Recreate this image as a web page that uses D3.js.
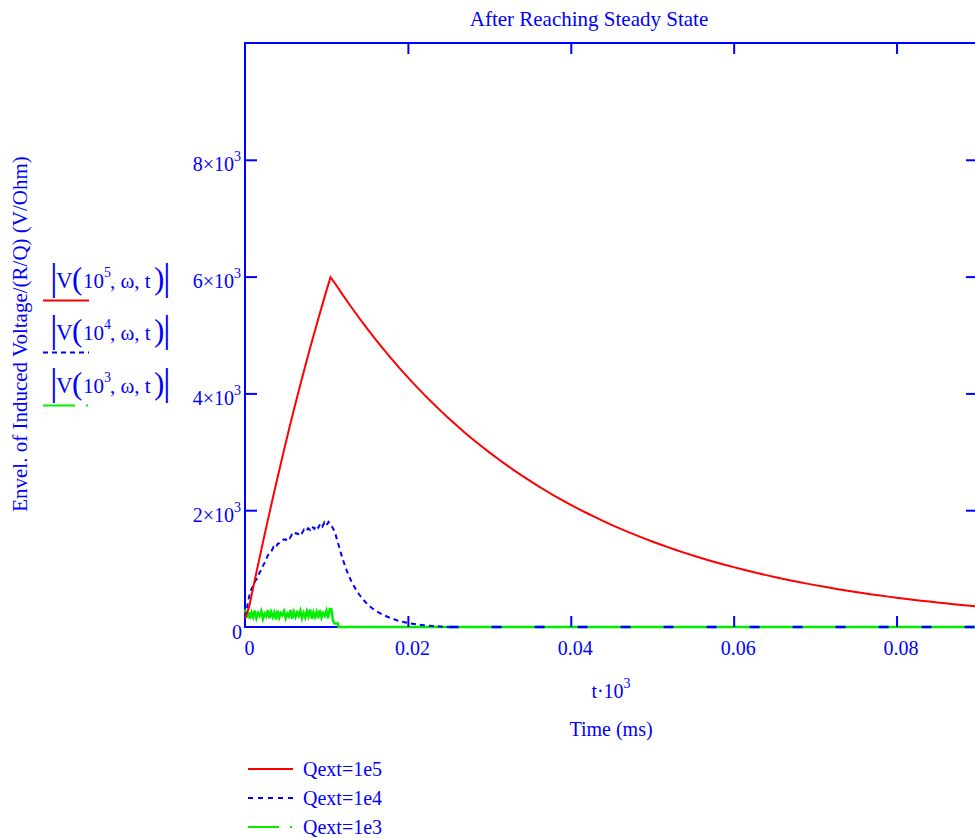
<!DOCTYPE html>
<meta charset="utf-8">
<style>
body { margin: 0; background: #fff; }
text { font-family: "Liberation Serif", "Times New Roman", serif; fill: #0000ff; }
.frame { fill: none; stroke: #0000ff; stroke-width: 2px; }
.tick line { stroke: #0000ff; stroke-width: 2px; }
</style>
<body>
<svg width="975" height="838"></svg>
<script src="https://cdn.jsdelivr.net/npm/d3@7/dist/d3.min.js"></script>
<script>

// ---- data (t in s*1e3 units as on the axis, V/(R/Q) in V/Ohm) ----
// Qext = 1e5 : fill ramp (every 0.0005) then decay (every 0.001)
var redRiseT = d3.range(22).map(function(i) { return i * 0.0005; });
var redRiseV = [150, 340, 670, 1000, 1320, 1640, 1950, 2260, 2560, 2860, 3150,
                3440, 3720, 3990, 4260, 4520, 4780, 5030, 5280, 5520, 5760, 5990];
var redDecayT = d3.range(80).map(function(i) { return 0.011 + i * 0.001; });
var redDecayV = [5894, 5687, 5488, 5295, 5109, 4930, 4757, 4590, 4429, 4274,
                 4124, 3979, 3839, 3705, 3575, 3449, 3328, 3212, 3099, 2990,
                 2885, 2784, 2686, 2592, 2501, 2413, 2329, 2247, 2168, 2092,
                 2019, 1948, 1880, 1814, 1750, 1689, 1630, 1572, 1517, 1464,
                 1413, 1363, 1315, 1269, 1225, 1182, 1140, 1100, 1062, 1025,
                 989, 954, 921, 888, 857, 827, 798, 770, 743, 717,
                 692, 668, 644, 622, 600, 579, 558, 539, 520, 502,
                 484, 467, 451, 435, 420, 405, 391, 377, 364, 351];

// Qext = 1e4 : noisy fill (every 0.00025), decay, then zero
var blueRiseT = d3.range(43).map(function(i) { return i * 0.00025; });
var blueRiseV = [170, 330, 520, 640, 700, 790, 830, 920, 980, 1060,
                 1120, 1210, 1270, 1300, 1370, 1350, 1420, 1440, 1470, 1500,
                 1490, 1540, 1520, 1580, 1560, 1610, 1590, 1640, 1610, 1670,
                 1640, 1690, 1660, 1720, 1680, 1740, 1700, 1770, 1720, 1790,
                 1740, 1800, 1760];
var blueDecayT = [0.011, 0.0115, 0.012, 0.0125, 0.013, 0.0135, 0.014, 0.0145, 0.015,
                  0.0155, 0.016, 0.017, 0.018, 0.019, 0.020, 0.021, 0.022, 0.023, 0.024, 0.025];
var blueDecayV = [1640, 1400, 1160, 960, 800, 670, 560, 470, 395,
                  335, 280, 205, 145, 100, 70, 45, 30, 18, 8, 0];
var blueTailT = [0.025, 0.09];
var blueTailV = [0, 0];

// Qext = 1e3 : noisy band (every 0.0002), then zero
var greenT = d3.range(53).map(function(i) { return i * 0.0002; });
var greenV = [300, 160, 260, 140, 250, 170, 280, 150, 240, 190,
              270, 140, 230, 180, 290, 150, 260, 170, 250, 130,
              280, 160, 240, 200, 270, 150, 230, 180, 290, 140,
              260, 170, 250, 190, 280, 150, 240, 160, 270, 180,
              300, 140, 250, 170, 260, 150, 290, 160, 240, 190,
              280, 150, 310];
var greenTailT = [0.0106, 0.0108, 0.011, 0.0114, 0.0115, 0.09];
var greenTailV = [310, 110, 60, 60, 0, 0];

var xTicks = [0, 0.02, 0.04, 0.06, 0.08];
var xTickLabels = ["0", "0.02", "0.04", "0.06", "0.08"];
var yTicks = [0, 2000, 4000, 6000, 8000];
var yTickMant = ["0", "2", "4", "6", "8"];

var seriesNames = ["Qext=1e5", "Qext=1e4", "Qext=1e3"];
var seriesExp = ["5", "4", "3"];
var seriesColors = ["#ff0000", "#0000ff", "#00ee00"];

// ---- layout ----
var svg = d3.select("svg");
var mLeft = 245, mRight = 978, mTop = 43, mBottom = 627;

var x = d3.scaleLinear().domain([0, 0.09]).range([mLeft, mRight]);
var y = d3.scaleLinear().domain([0, 10000]).range([mBottom, mTop]);

function zip(t, v) { return t.map(function(d, i) { return [d, v[i]]; }); }

var line = d3.line().x(function(d) { return x(d[0]); }).y(function(d) { return y(d[1]); });

// frame
svg.append("rect").attr("class", "frame")
    .attr("x", mLeft).attr("y", mTop).attr("width", mRight - mLeft).attr("height", mBottom - mTop);

var plot = svg.append("g");

// green
plot.append("path")
    .datum(zip(greenT, greenV).concat(zip(greenTailT, greenTailV)))
    .attr("d", line)
    .attr("fill", "none").attr("stroke", seriesColors[2]).attr("stroke-width", 2.5);

// blue
plot.append("path")
    .datum(zip(blueRiseT, blueRiseV).concat(zip(blueDecayT, blueDecayV)))
    .attr("d", line)
    .attr("fill", "none").attr("stroke", seriesColors[1]).attr("stroke-width", 2)
    .attr("stroke-dasharray", "5,4");
plot.append("path")
    .datum(zip(blueTailT, blueTailV))
    .attr("d", line)
    .attr("fill", "none").attr("stroke", seriesColors[1]).attr("stroke-width", 2.5)
    .attr("stroke-dasharray", "10,33");

// red
plot.append("path")
    .datum(zip(redRiseT, redRiseV).concat(zip(redDecayT, redDecayV)))
    .attr("d", line)
    .attr("fill", "none").attr("stroke", seriesColors[0]).attr("stroke-width", 2);

// ---- axes ----
var xAxis = svg.append("g").attr("transform", "translate(0," + mBottom + ")")
    .call(d3.axisBottom(x).tickValues(xTicks).tickSize(-11).tickSizeOuter(0)
        .tickFormat(function(d, i) { return xTickLabels[i]; }));
xAxis.select(".domain").remove();
xAxis.selectAll(".tick").filter(function(d) { return d === 0; }).select("line").remove();
xAxis.selectAll("text").attr("y", 28).attr("dy", 0).attr("dx", 4)
    .style("font-size", "20px").attr("fill", "#0000ff");

var xTop = svg.append("g").attr("transform", "translate(0," + mTop + ")")
    .call(d3.axisTop(x).tickValues(xTicks.slice(1)).tickSize(-11).tickSizeOuter(0).tickFormat(""));
xTop.select(".domain").remove();

var yAxis = svg.append("g").attr("transform", "translate(" + mLeft + ",0)")
    .call(d3.axisLeft(y).tickValues(yTicks).tickSize(-12).tickSizeOuter(0).tickFormat(""));
yAxis.select(".domain").remove();
yAxis.selectAll(".tick").filter(function(d) { return d === 0; }).select("line").remove();
yAxis.selectAll(".tick").each(function(d, i) {
  var t = d3.select(this).append("text")
      .attr("text-anchor", "end").attr("y", 11).style("font-size", "20px");
  if (d === 0) {
    t.attr("x", -3).text(yTickMant[i]);
  } else {
    t.attr("x", -4);
    t.append("tspan").text(yTickMant[i] + "\u00d710");
    t.append("tspan").attr("dy", -10).style("font-size", "14px").text("3");
  }
});

var yRight = svg.append("g").attr("transform", "translate(" + mRight + ",0)")
    .call(d3.axisRight(y).tickValues(yTicks.slice(1)).tickSize(-12).tickSizeOuter(0).tickFormat(""));
yRight.select(".domain").remove();

// ---- labels ----
svg.append("text").attr("x", 589).attr("y", 26).attr("text-anchor", "middle")
    .style("font-size", "21px").text("After Reaching Steady State");

var xl = svg.append("text").attr("x", 611).attr("y", 698).attr("text-anchor", "middle")
    .style("font-size", "20px");
xl.append("tspan").text("t\u00b710");
xl.append("tspan").attr("dy", -10).style("font-size", "14px").text("3");

svg.append("text").attr("x", 611).attr("y", 736).attr("text-anchor", "middle")
    .style("font-size", "20px").text("Time (ms)");

svg.append("text").attr("transform", "translate(27,334) rotate(-90)")
    .attr("text-anchor", "middle").style("font-size", "21px")
    .text("Envel. of Induced Voltage/(R/Q) (V/Ohm)");

// left legend: |V(10^n, ω, t)| with line samples
var legBase = [288, 340, 393];
var legDash = [null, "5,4", "32,11,2,100"];
seriesExp.forEach(function(e, i) {
  var g = svg.append("g").attr("transform", "translate(0," + legBase[i] + ")");
  g.append("text").attr("x", 50).attr("y", 2).style("font-size", "38px").text("|");
  g.append("text").attr("x", 56).attr("y", 0).style("font-size", "23px").text("V");
  g.append("text").attr("x", 72).attr("y", 1).style("font-size", "31px").text("(");
  var n = g.append("text").attr("x", 83).attr("y", 0).style("font-size", "21px");
  n.append("tspan").text("10");
  n.append("tspan").attr("dy", -11).style("font-size", "14px").text(e);
  g.append("text").attr("x", 110).attr("y", 0).style("font-size", "21px")
      .text(", \u03c9, t");
  g.append("text").attr("x", 154).attr("y", 1).style("font-size", "31px").text(")");
  g.append("text").attr("x", 163).attr("y", 2).style("font-size", "38px").text("|");
  g.append("line").attr("x1", 43).attr("x2", 89).attr("y1", 12.5).attr("y2", 12.5)
      .attr("stroke", seriesColors[i]).attr("stroke-width", 2)
      .attr("stroke-dasharray", legDash[i]);
});

// bottom legend
var legY = [769, 798, 827];
var legDash2 = [null, "5,5", "31,11,2,100"];
seriesNames.forEach(function(s, i) {
  svg.append("line").attr("x1", 248).attr("x2", 293).attr("y1", legY[i]).attr("y2", legY[i])
      .attr("stroke", seriesColors[i]).attr("stroke-width", 2)
      .attr("stroke-dasharray", legDash2[i]);
  svg.append("text").attr("x", 303).attr("y", legY[i] + 7).style("font-size", "20px").text(s);
});

</script>
</body>
